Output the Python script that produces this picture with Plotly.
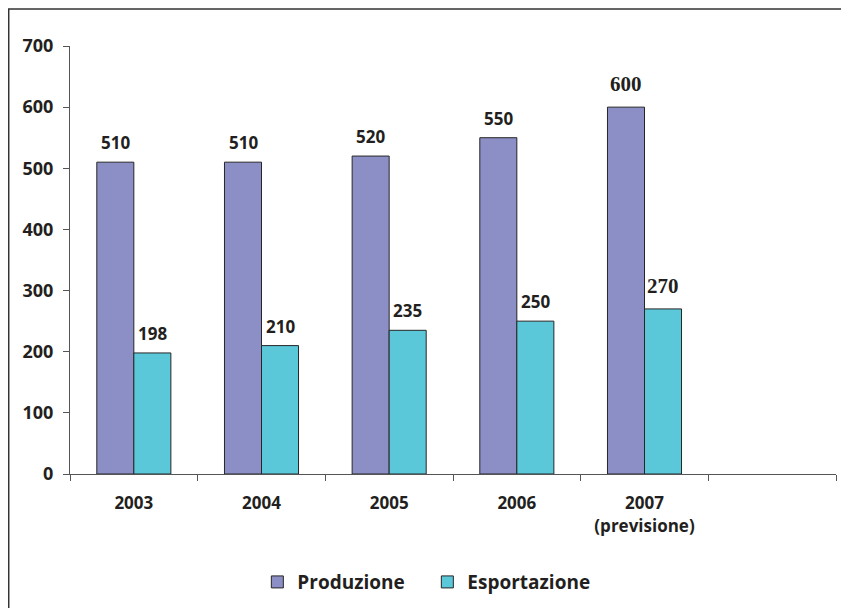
import plotly.graph_objects as go

categories = ["2003", "2004", "2005", "2006", "2007<br>(previsione)", " "]
produzione = [510, 510, 520, 550, 600, None]
esportazione = [198, 210, 235, 250, 270, None]
label_big = [False, False, False, False, True, False]
y_ticks = [0, 100, 200, 300, 400, 500, 600, 700]

FONT = "Open Sans"
SERIF = "Liberation Serif"
col_prod = "#8C8FC6"
col_exp = "#5BC8DA"
edge = "#262626"
txt = "#231f20"

fig = go.Figure()
fig.add_trace(go.Bar(name="<b>Produzione</b>", x=categories, y=produzione,
                     marker=dict(color=col_prod, line=dict(color=edge, width=1))))
fig.add_trace(go.Bar(name="<b>Esportazione</b>", x=categories, y=esportazione,
                     marker=dict(color=col_exp, line=dict(color=edge, width=1))))

annotations = []
for series, shift in ((produzione, -18.5), (esportazione, 18.5)):
    for i, (v, big) in enumerate(zip(series, label_big)):
        if v is None:
            continue
        annotations.append(dict(
            x=i, y=v, xref="x", yref="y", text=f"<b>{v}</b>", showarrow=False,
            xshift=shift, yshift=6 if not big else 9, yanchor="bottom",
            font=dict(family=SERIF if big else FONT, size=21 if big else 17, color=txt)))

fig.update_layout(
    width=833, height=600,
    margin=dict(l=62, r=5, t=38, b=134),
    paper_bgcolor="white", plot_bgcolor="white",
    barmode="group", bargap=0.42, bargroupgap=0,
    font=dict(family=FONT, color=txt),
    showlegend=True,
    legend=dict(orientation="h", x=0.4665, xanchor="center", y=-0.2525, yanchor="middle",
                font=dict(family=FONT, size=19, color=txt),
                itemwidth=30, entrywidth=125, traceorder="normal"),
    annotations=annotations,
    shapes=[dict(type="rect", xref="paper", yref="paper",
                 x0=-0.0800, x1=1.2, y0=-0.6, y1=1.0864,
                 line=dict(color="#333333", width=1.5), fillcolor="rgba(0,0,0,0)", layer="below")],
)
fig.update_xaxes(type="category", categoryorder="array", categoryarray=categories,
                 range=[-0.5, len(categories) - 0.5],
                 showline=True, linecolor="#555555", linewidth=1,
                 ticks="outside", tickson="boundaries", ticklen=6, tickcolor="#555555",
                 tickfont=dict(family=FONT, size=17, color=txt),
                 ticklabelstandoff=14, showgrid=False, zeroline=False,
                 tickmode="array", tickvals=list(range(len(categories))),
                 ticktext=[f"<b>{c}</b>" for c in categories])
fig.update_yaxes(range=[0, 700], tickvals=y_ticks, ticktext=[f"<b>{t}</b>" for t in y_ticks],
                 showline=True, linecolor="#555555", linewidth=1,
                 ticks="outside", ticklen=6, tickcolor="#555555",
                 tickfont=dict(family=FONT, size=18, color=txt),
                 ticklabelstandoff=6, showgrid=False, zeroline=False)

fig.write_html("out.html")
